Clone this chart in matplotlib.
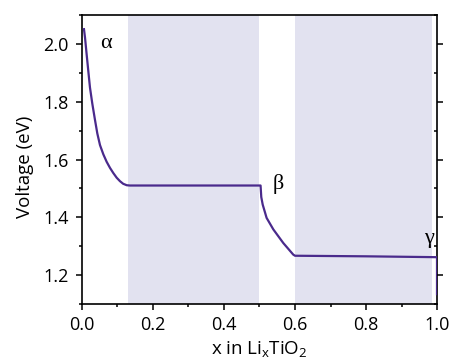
import matplotlib
matplotlib.use("Agg")
import matplotlib.pyplot as plt
from matplotlib.ticker import MultipleLocator

# Data
x_vals = [0.0056, 0.0085, 0.0131, 0.0178, 0.0225, 0.0291, 0.0366, 0.0432, 0.0507, 0.0601, 0.0695, 0.0789,
          0.0883, 0.0977, 0.107, 0.116, 0.126, 0.135, 0.300, 0.503, 0.505, 0.509, 0.520, 0.539, 0.567,
          0.595, 0.600, 0.800, 1.000, 1.000]
v_vals = [2.051, 2.022, 1.964, 1.906, 1.849, 1.793, 1.737, 1.690, 1.650, 1.618, 1.592, 1.571,
          1.553, 1.537, 1.525, 1.516, 1.511, 1.510, 1.510, 1.510, 1.470, 1.444, 1.398, 1.358, 1.311,
          1.271, 1.267, 1.265, 1.262, 1.134]
shade_regions = [(0.13, 0.50), (0.60, 0.985)]
phase_labels = ["α", "β", "γ"]
phase_pos = [(0.068, 2.0), (0.552, 1.515), (0.978, 1.325)]
xticks = [0.0, 0.2, 0.4, 0.6, 0.8, 1.0]
yticks = [1.2, 1.4, 1.6, 1.8, 2.0]

plt.rcParams['font.family'] = ['Open Sans', 'DejaVu Sans']

fig = plt.figure(figsize=(4.49, 3.59), dpi=100)
ax = fig.add_axes([0.1826, 0.1532, 0.7907, 0.805])

for a, b in shade_regions:
    ax.axvspan(a, b, color='#e2e2f0', lw=0, zorder=0)

ax.plot(x_vals, v_vals, color='#4a2a8c', lw=1.6, zorder=3)

for lab, (px, py) in zip(phase_labels, phase_pos):
    ax.text(px, py, lab, fontsize=16, ha='center', va='center', zorder=4,
            family=['Liberation Serif', 'DejaVu Serif'])

ax.set_xlim(0, 1.0)
ax.set_ylim(1.1, 2.1)
ax.set_xticks(xticks)
ax.set_yticks(yticks)
ax.xaxis.set_minor_locator(MultipleLocator(0.1))
ax.yaxis.set_minor_locator(MultipleLocator(0.1))
ax.set_xticklabels([f"{t:.1f}" for t in xticks])
ax.set_yticklabels([f"{t:.1f}" for t in yticks])

ax.tick_params(axis='both', which='major', labelsize=13, width=1.1, length=4.5, direction='out', color='black')
ax.tick_params(axis='both', which='minor', width=1.1, length=2.5, direction='out')
ax.tick_params(axis='y', which='both', right=True, labelright=False)
ax.tick_params(axis='x', which='both', top=False)
for t in ax.yaxis.get_major_ticks() + ax.yaxis.get_minor_ticks():
    t.tick2line.set_marker(matplotlib.lines.TICKLEFT)
ax.tick_params(axis='y', which='major', pad=5)
ax.tick_params(axis='x', which='major', pad=4)

for s in ax.spines.values():
    s.set_linewidth(1.2)

ax.set_ylabel("Voltage (eV)", fontsize=13.5)
ax.yaxis.set_label_coords(-0.135, 0.475)
ax.set_xlabel("x in Li$_\\mathregular{x}$TiO$_\\mathregular{2}$", fontsize=13.5, labelpad=4)

fig.savefig("out.png", dpi=100)
